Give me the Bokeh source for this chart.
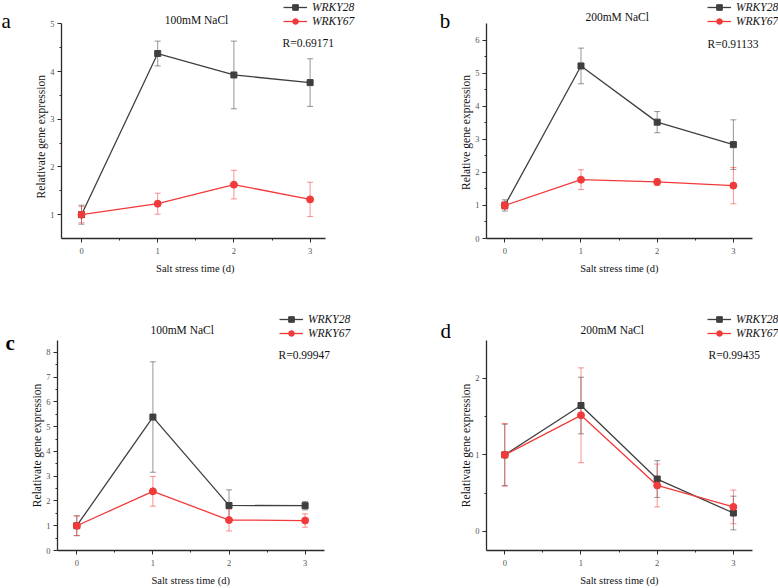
from bokeh.plotting import figure
from bokeh.layouts import column, row
from bokeh.models import (ColumnDataSource, Whisker, TeeHead, Label, Legend,
                          LegendItem, FixedTicker, Range1d)
from bokeh.embed import file_html
from bokeh.resources import INLINE

FONT = "Liberation Serif"
NBSP = "\u00a0"

days = [0, 1, 2, 3]
x_ticks = [0, 1, 2, 3]
x_minor = [0.5, 1.5, 2.5]

# Panel a: 100mM NaCl
a_w28 = [1.00, 4.38, 3.93, 3.77]
a_w28_err = [0.20, 0.26, 0.71, 0.50]
a_w67 = [1.00, 1.23, 1.63, 1.32]
a_w67_err = [0.17, 0.22, 0.30, 0.36]

# Panel b: 200mM NaCl
b_w28 = [1.00, 5.22, 3.52, 2.84]
b_w28_err = [0.17, 0.54, 0.32, 0.75]
b_w67 = [1.00, 1.78, 1.71, 1.60]
b_w67_err = [0.12, 0.30, 0.10, 0.55]

# Panel c: 100mM NaCl
c_w28 = [1.00, 5.39, 1.82, 1.81]
c_w28_err = [0.40, 2.23, 0.63, 0.17]
c_w67 = [1.00, 2.39, 1.23, 1.21]
c_w67_err = [0.40, 0.60, 0.44, 0.27]

# Panel d: 200mM NaCl
d_w28 = [1.00, 1.645, 0.684, 0.24]
d_w28_err = [0.40, 0.37, 0.24, 0.22]
d_w67 = [1.00, 1.517, 0.60, 0.32]
d_w67_err = [0.41, 0.62, 0.28, 0.22]

GRAY = "#3f3f3f"
RED = "#f23a3a"


def add_series(p, y, err, color, marker, size):
    src = ColumnDataSource(dict(
        x=days, y=y,
        upper=[v + e for v, e in zip(y, err)],
        lower=[v - e for v, e in zip(y, err)],
    ))
    head = dict(size=6, line_color=color, line_alpha=0.55, line_width=1)
    p.add_layout(Whisker(source=src, base="x", upper="upper", lower="lower",
                         line_color=color, line_alpha=0.55, line_width=1,
                         upper_head=TeeHead(**head), lower_head=TeeHead(**head)))
    ln = p.line("x", "y", source=src, line_color=color, line_width=1.3)
    mk = p.scatter("x", "y", source=src, marker=marker, size=size,
                   fill_color=color, line_color=color)
    return [ln, mk]


def letter_fig(width, bottom, letter, pos, bold):
    """A blank strip carrying the panel letter (its frame lines up with the
    neighbouring panel, so positions are measured from that frame's bottom)."""
    f = figure(width=width, height=294, x_range=Range1d(0, 1),
               y_range=Range1d(0, 1), x_axis_type=None, y_axis_type=None,
               output_backend="svg", toolbar_location=None,
               min_border_left=0, min_border_right=0,
               min_border_top=0, min_border_bottom=bottom)
    f.outline_line_color = None
    f.add_layout(Label(x=pos[0], y=pos[1], x_units="screen", y_units="screen",
                       text=letter, text_font=FONT, text_font_size="21px",
                       text_font_style="bold" if bold else "normal",
                       text_color="black", text_baseline="alphabetic"))
    return f


def make_panel(title, ylabel, w28, w28_err, w67, w67_err,
               xr, xb, yr, yb, yticks, yminor, r_text, lay):
    # the plotting frame reaches the top and right edges so that the
    # condition title, legend and R value sit inside it; the axes are
    # limited to their data extent with bounds.  Axis titles are centred on
    # the frame, so trailing no-break spaces bring them back over the axis.
    p = figure(width=lay["width"], height=294,
               x_range=Range1d(*xr), y_range=Range1d(*yr),
               output_backend="svg", toolbar_location=None,
               min_border_left=lay["left"], min_border_right=0,
               min_border_top=0, min_border_bottom=lay["bottom"])
    p.outline_line_color = None
    p.xgrid.visible = False
    p.ygrid.visible = False
    p.background_fill_color = "white"
    p.border_fill_color = "white"

    p.xaxis.ticker = FixedTicker(ticks=x_ticks, minor_ticks=x_minor)
    p.yaxis.ticker = FixedTicker(ticks=yticks, minor_ticks=yminor)
    p.xaxis.bounds = xb
    p.yaxis.bounds = yb
    p.xaxis.axis_label = "Salt stress time (d)" + NBSP * lay["xpad"]
    p.yaxis.axis_label = ylabel + NBSP * lay["ypad"]
    for ax in (p.xaxis[0], p.yaxis[0]):
        ax.axis_line_color = "#2a2a2a"
        ax.axis_line_width = 1.3
        ax.major_tick_line_color = "#2a2a2a"
        ax.minor_tick_line_color = "#2a2a2a"
        ax.major_tick_out = 4
        ax.major_tick_in = 0
        ax.minor_tick_out = 2
        ax.minor_tick_in = 0
        ax.major_label_text_font = FONT
        ax.major_label_text_font_size = "8.5px"
        ax.major_label_text_color = "#555555"
        ax.axis_label_text_font = FONT
        ax.axis_label_text_font_style = "normal"
        ax.axis_label_text_color = "#111111"
    p.xaxis.axis_label_text_font_size = "10.5px"
    p.yaxis.axis_label_text_font_size = "11.5px"
    p.xaxis.major_label_standoff = 5
    p.yaxis.major_label_standoff = 3
    p.xaxis.axis_label_standoff = 6
    p.yaxis.axis_label_standoff = 0

    r28 = add_series(p, w28, w28_err, GRAY, "square", 6)
    r67 = add_series(p, w67, w67_err, RED, "circle", 7)

    p.add_layout(Label(x=lay["title"][0], y=lay["title"][1], x_units="screen",
                       y_units="screen", text=title, text_font=FONT,
                       text_font_size="11.5px", text_align="center",
                       text_baseline="alphabetic", text_color="#111111"))
    p.add_layout(Label(x=lay["r"][0], y=lay["r"][1], x_units="screen",
                       y_units="screen", text=r_text, text_font=FONT,
                       text_font_size="11.5px", text_baseline="alphabetic",
                       text_color="#111111"))

    legend = Legend(items=[LegendItem(label="WRKY28", renderers=r28),
                           LegendItem(label="WRKY67", renderers=r67)],
                    location=lay["legend"], orientation="vertical",
                    padding=0, margin=0, spacing=0,
                    glyph_width=24, glyph_height=14, label_height=14,
                    label_standoff=5, border_line_alpha=0,
                    background_fill_alpha=0,
                    label_text_font=FONT, label_text_font_size="11.5px",
                    label_text_font_style="italic", label_text_color="#111111")
    p.add_layout(legend)
    return p


lay_a = dict(width=369, left=41, bottom=56, xpad=23, ypad=12,
             title=(135, 219), r=(221, 195.5), legend=(222, 210))
lay_b = dict(width=327, left=35, bottom=56, xpad=10, ypad=9,
             title=(130.7, 221.3), r=(221, 194.7), legend=(221, 210))
lay_c = dict(width=369, left=37, bottom=33, xpad=25, ypad=16,
             title=(124.7, 220.3), r=(221, 196), legend=(222, 210))
lay_d = dict(width=327, left=35, bottom=33, xpad=10, ypad=16,
             title=(125.7, 220.3), r=(222, 196), legend=(221, 210))

pa = make_panel("100mM NaCl", "Relativate gene expression",
                a_w28, a_w28_err, a_w67, a_w67_err,
                (-0.2625, 4.042), (-0.2625, 3.20), (0.5, 5.492), (0.5, 5.0),
                [1, 2, 3, 4, 5], [1.5, 2.5, 3.5, 4.5], "R=0.69171", lay_a)
pb = make_panel("200mM NaCl", "Relative gene expression",
                b_w28, b_w28_err, b_w67, b_w67_err,
                (-0.240, 3.592), (-0.240, 3.254), (0.0, 7.20), (0.0, 6.5),
                [0, 1, 2, 3, 4, 5, 6], [0.5, 1.5, 2.5, 3.5, 4.5, 5.5],
                "R=0.91133", lay_b)
pc = make_panel("100mM NaCl", "Relativate gene expression",
                c_w28, c_w28_err, c_w67, c_w67_err,
                (-0.2536, 4.109), (-0.2536, 3.255), (0.0, 10.34), (0.0, 8.5),
                [0, 1, 2, 3, 4, 5, 6, 7, 8],
                [0.5, 1.5, 2.5, 3.5, 4.5, 5.5, 6.5, 7.5], "R=0.99947", lay_c)
pd_ = make_panel("200mM NaCl", "Relativate gene expression",
                 d_w28, d_w28_err, d_w67, d_w67_err,
                 (-0.240, 3.592), (-0.240, 3.254), (-0.25, 3.096), (-0.25, 2.5),
                 [0, 1, 2], [0.5, 1.5], "R=0.99435", lay_d)

la = letter_fig(20, 56, "a", (1, 217.3), False)
lb = letter_fig(62, 56, "b", (50.3, 218), False)
lc = letter_fig(20, 33, "c", (5, 207.7), True)
ld = letter_fig(62, 33, "d", (51, 220), False)

layout = column(row(la, pa, lb, pb), row(lc, pc, ld, pd_))
open("out.html", "w").write(file_html(layout, INLINE))
